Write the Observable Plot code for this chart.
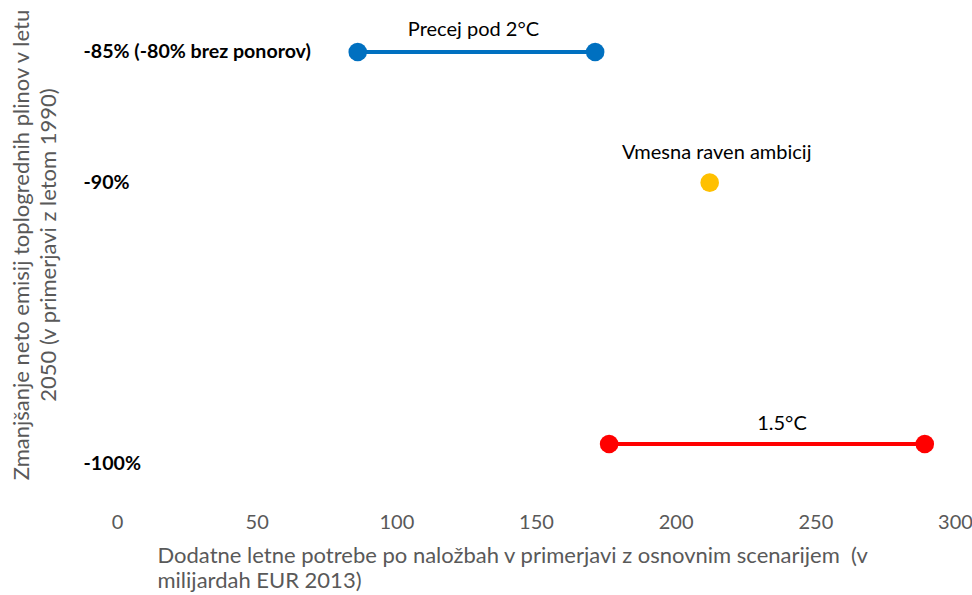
<!DOCTYPE html>
<html><head><meta charset="utf-8">
<script src="https://cdn.jsdelivr.net/npm/d3@7"></script>
<script src="https://cdn.jsdelivr.net/npm/@observablehq/plot@0.6"></script>
<style>html,body{margin:0;background:#fff}#chart svg{display:block}</style>
</head><body><div id="chart"></div>
<script>
// ---- data ----
const scenarios = ["Precej pod 2°C", "Vmesna raven ambicij", "1.5°C"];
const reductions = [-85, -90, -100];
const reductionLabels = ["-85% (-80% brez ponorov)", "-90%", "-100%"];
const investMin = [86, 212, 176];
const investMax = [171, 212, 289];
const colors = ["#0070C0", "#FFC000", "#FF0000"];
const xTicks = [0, 50, 100, 150, 200, 250, 300];
const xTitle = "Dodatne letne potrebe po naložbah v primerjavi z osnovnim scenarijem  (v\nmilijardah EUR 2013)";
const yTitle = "Zmanjšanje neto emisij toplogrednih plinov v letu\n2050 (v primerjavi z letom 1990)";

// ---- derived tables ----
const rows = scenarios.map((s, i) => ({
  scenario: s, reduction: reductions[i], label: reductionLabels[i],
  lo: investMin[i], hi: investMax[i], mid: (investMin[i] + investMax[i]) / 2, color: colors[i]
}));
const ends = rows.flatMap(r => r.lo === r.hi ? [{...r, x: r.lo}] : [{...r, x: r.lo}, {...r, x: r.hi}]);

// label styling offsets (pixels)
const scenDx = [-3, 7, 15], scenDy = [-22, -30, -20];
const redDy = [0, 0, 20];

const font = "Lato, 'Open Sans', sans-serif";
const fs = 20;
const titleFs = 22;

const chart = Plot.plot({
  width: 972, height: 595,
  marginLeft: 117, marginRight: 17, marginTop: 0, marginBottom: 82,
  style: {fontFamily: font, background: "#fff"},
  x: {domain: [0, 300], ticks: xTicks},
  y: {domain: [-100, -85], range: [443.5, 51.5], axis: null},
  color: {type: "identity"},
  marks: [
    Plot.axisX({ticks: xTicks, tickSize: 0, tickPadding: 1, fontSize: 20, color: "#595959", label: null, tickFormat: d => String(d)}),
    Plot.link(rows.filter(r => r.lo !== r.hi), {x1: "lo", x2: "hi", y1: "reduction", y2: "reduction", stroke: "color", strokeWidth: 4}),
    Plot.dot(ends, {x: "x", y: "reduction", r: 9.3, fill: "color", stroke: null}),
    ...rows.map((r, i) => Plot.text([r], {x: "mid", y: "reduction", text: "scenario", dx: scenDx[i], dy: scenDy[i], fontSize: fs, fill: "#000"})),
    ...rows.map((r, i) => Plot.text([r], {frameAnchor: "left", y: "reduction", text: "label", textAnchor: "start", dx: -34, dy: redDy[i], fontSize: 19.6, fontWeight: "bold", fill: "#000"})),
    Plot.text([xTitle], {frameAnchor: "bottom-left", dx: 40, dy: 32, textAnchor: "start", lineAnchor: "top", lineHeight: 1.14, fontSize: titleFs, fill: "#595959"}),
    Plot.text([yTitle], {frameAnchor: "left", dx: -83.5, dy: -12, rotate: -90, textAnchor: "middle", lineAnchor: "middle", lineHeight: 1.23, fontSize: titleFs, fill: "#595959"})
  ]
});
document.getElementById("chart").append(chart);
</script>
</body></html>
